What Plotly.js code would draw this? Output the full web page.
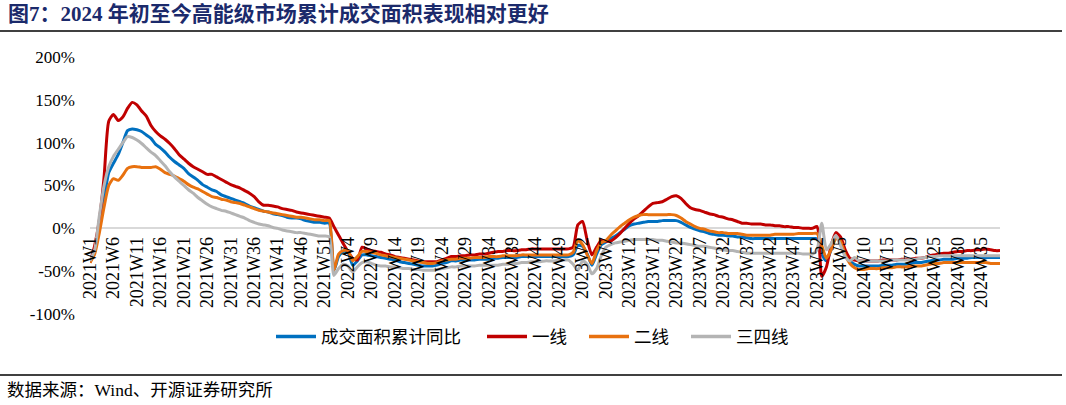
<!DOCTYPE html>
<html>
<head>
<meta charset="utf-8">
<script src="https://cdn.plot.ly/plotly-3.0.1.min.js"></script>
<style>
html,body{margin:0;padding:0;background:#fff;}
#chart{width:1066px;height:405px;}
</style>
</head>
<body>
<div id="chart"></div>
<script>
// ---- categories: weekly labels 2021W1 .. 2024W39 ----
var years = [2021, 2022, 2023, 2024];
var weeksPerYear = [52, 52, 52, 39];
var weeks = [];
for (var k = 0; k < years.length; k++) {
  for (var w = 1; w <= weeksPerYear[k]; w++) weeks.push(years[k] + 'W' + w);
}

// ---- tick labels shown on the x axis ----
var tickLabels = ['2021W1','2021W6','2021W11','2021W16','2021W21','2021W26','2021W31','2021W36','2021W41','2021W46','2021W51',
  '2022W4','2022W9','2022W14','2022W19','2022W24','2022W29','2022W34','2022W39','2022W44','2022W49',
  '2023W2','2023W7','2023W12','2023W17','2023W22','2023W27','2023W32','2023W37','2023W42','2023W47','2023W52',
  '2024W5','2024W10','2024W15','2024W20','2024W25','2024W30','2024W35'];

// ---- series (%), 成交面积累计同比 ----
var total = [
 -38,-25,5,35,65,76,86,100,114,116,115,113,109,105,98,94,89,83,78,74,70,64,60,56,51,48,45,43,39,37,35,33,31,29,26,24,22,20,19,17,16,15,13,12,12,11,9,8,7,7,6,6,
 -49,-33,-27,-28,-43,-38,-31,-31,-32,-33,-34,-35,-36,-37,-39,-40,-41,-42,-43,-44,-44,-44,-43,-41,-40,-38,-38,-37,-37,-37,-37,-36,-36,-36,-35,-35,-34,-34,-34,-34,-33,-33,-33,-33,-33,-33,-33,-33,-33,-33,-33,-31,
 -20,-21,-30,-43,-30,-19,-16,-12,-9,-5,-1,3,5,6,7,8,8,8,9,9,9,9,7,4,1,-1,-3,-4,-6,-7,-8,-8,-9,-9,-10,-10,-11,-12,-12,-12,-12,-12,-12,-12,-12,-12,-12,-12,-12,-12,-12,-12,
 -30,-38,-25,-11,-15,-27,-38,-42,-44,-44,-44,-44,-44,-43,-43,-43,-42,-42,-42,-41,-40,-40,-39,-38,-37,-37,-36,-36,-36,-35,-35,-35,-34,-34,-34,-34,-34,-34,-34
];
// 一线
var tier1 = [
 -40,-20,10,60,125,133,126,130,140,147,144,137,131,120,113,108,104,99,93,86,81,76,72,69,66,63,63,60,57,54,51,49,47,44,41,37,31,27,27,26,25,23,22,21,19,18,17,16,15,14,13,12,
 2,-8,-18,-27,-35,-37,-22,-24,-26,-27,-28,-30,-31,-33,-34,-35,-36,-37,-38,-39,-39,-39,-39,-37,-35,-33,-33,-32,-32,-31,-31,-30,-30,-29,-28,-27,-27,-26,-26,-26,-25,-25,-24,-24,-24,-24,-24,-24,-24,-24,-24,-22,
 4,8,-14,-31,-22,-14,-15,-15,-11,-6,0,6,11,15,20,25,29,30,31,34,37,38,35,29,24,22,21,19,17,16,14,13,11,10,8,6,6,5,5,5,4,4,3,3,2,2,1,1,0,0,0,2,
 -56,-45,-20,-5,-10,-25,-35,-37,-38,-38,-38,-38,-38,-37,-37,-37,-37,-36,-36,-36,-35,-35,-34,-32,-31,-30,-29,-29,-28,-27,-27,-26,-26,-25,-25,-24,-25,-26,-26
];
// 二线
var tier2 = [
 -40,-30,-5,25,50,58,56,62,70,72,72,71,71,71,72,69,65,63,61,58,55,51,48,46,43,40,37,36,34,33,31,30,29,27,25,23,21,20,19,18,17,16,15,14,13,13,12,11,10,10,9,9,
 -49,-30,-26,-26,-38,-33,-27,-27,-28,-29,-31,-32,-33,-34,-35,-36,-37,-38,-39,-40,-41,-41,-40,-38,-37,-36,-36,-35,-35,-35,-34,-34,-34,-33,-33,-33,-32,-32,-32,-32,-31,-31,-31,-31,-31,-31,-31,-31,-31,-31,-31,-28,
 -14,-19,-31,-41,-26,-17,-14,-8,-3,2,6,10,13,15,16,16,16,16,16,16,16,15,12,8,5,2,0,-1,-3,-4,-5,-5,-6,-6,-6,-7,-8,-8,-8,-8,-8,-8,-7,-7,-7,-7,-7,-6,-6,-6,-6,-6,
 -20,-35,-25,-12,-15,-31,-41,-46,-48,-48,-47,-47,-47,-46,-46,-46,-45,-45,-45,-44,-44,-44,-43,-42,-41,-41,-40,-40,-40,-40,-40,-40,-40,-40,-40,-40,-41,-41,-41
];
// 三四线
var tier34 = [
 -38,-25,15,50,72,84,92,100,107,106,103,99,94,89,85,79,73,66,60,55,50,45,41,36,32,28,25,23,21,20,18,16,14,12,9,7,5,4,3,1,0,-2,-3,-4,-5,-5,-6,-7,-8,-9,-9,-10,
 -55,-47,-42,-44,-51,-45,-40,-39,-41,-43,-44,-44,-45,-45,-46,-47,-47,-48,-48,-49,-49,-49,-48,-47,-46,-45,-45,-44,-44,-44,-44,-43,-43,-43,-43,-43,-42,-42,-41,-41,-40,-40,-39,-39,-39,-38,-38,-38,-37,-37,-37,-42,
 -49,-38,-42,-53,-47,-32,-22,-19,-17,-16,-15,-14,-13,-13,-13,-13,-13,-14,-14,-15,-16,-17,-17,-18,-19,-20,-21,-21,-22,-23,-24,-25,-26,-26,-27,-28,-29,-29,-29,-29,-29,-29,-29,-29,-29,-29,-29,-29,-30,-30,-30,-25,
 6,-25,-18,-8,-20,-33,-38,-34,-38,-38,-38,-38,-38,-38,-38,-37,-37,-37,-37,-36,-36,-35,-34,-33,-33,-32,-32,-32,-32,-32,-32,-32,-32,-32,-32,-32,-32,-32,-32
];

var seriesNames = ['成交面积累计同比', '一线', '二线', '三四线'];
var seriesData = [total, tier1, tier2, tier34];
var seriesColors = ['#0070C0', '#C00000', '#E8710F', '#B4B4B4'];

var yTickVals = [-100, -50, 0, 50, 100, 150, 200];
var yTickText = ['-100%', '-50%', '0%', '50%', '100%', '150%', '200%'];

var serif = '"Liberation Serif", "Times New Roman", "Noto Sans CJK SC", serif';

var traces = seriesData.map(function (d, i) {
  return {
    type: 'scatter', mode: 'lines', name: seriesNames[i],
    x: weeks, y: d, showlegend: false,
    line: {color: seriesColors[i], width: 3, shape: 'spline', smoothing: 0.6},
    hoverinfo: 'skip'
  };
});

// plot area: x 90..1000 px, y 57..314 px
function px2x(p) { return (p - 90) / 910; }
function px2y(p) { return (314 - p) / 257; }

var shapes = [
  {type: 'line', xref: 'paper', yref: 'paper', x0: px2x(0), x1: px2x(1062), y0: px2y(31), y1: px2y(31),
   line: {color: '#000', width: 1.3}},
  {type: 'line', xref: 'paper', yref: 'paper', x0: px2x(0), x1: px2x(1062), y0: px2y(375), y1: px2y(375),
   line: {color: '#000', width: 1.3}}
];
var annotations = [
  {xref: 'paper', yref: 'paper', x: px2x(6), y: px2y(14), xanchor: 'left', yanchor: 'middle',
   text: '<b>图7：2024 年初至今高能级市场累计成交面积表现相对更好</b>', showarrow: false,
   font: {family: serif, size: 21, color: '#1B2A6B'}},
  {xref: 'paper', yref: 'paper', x: px2x(5), y: px2y(390), xanchor: 'left', yanchor: 'middle',
   text: '数据来源：Wind、开源证券研究所', showarrow: false,
   font: {family: serif, size: 17.5, color: '#000'}}
];

// legend (drawn manually to match entry spacing)
var legendLineX = [276, 487, 589, 691];
var legendY = 336.5;
for (var i = 0; i < seriesNames.length; i++) {
  shapes.push({type: 'line', xref: 'paper', yref: 'paper',
    x0: px2x(legendLineX[i]), x1: px2x(legendLineX[i] + 40), y0: px2y(legendY), y1: px2y(legendY),
    line: {color: seriesColors[i], width: 3.5}});
  annotations.push({xref: 'paper', yref: 'paper', x: px2x(legendLineX[i] + 43), y: px2y(legendY),
    xanchor: 'left', yanchor: 'middle', showarrow: false, text: seriesNames[i],
    font: {family: serif, size: 17.5, color: '#000'}});
}

var layout = {
  width: 1066, height: 405,
  margin: {l: 90, r: 66, t: 57, b: 91},
  paper_bgcolor: '#ffffff', plot_bgcolor: '#ffffff',
  showlegend: false,
  font: {family: serif, color: '#000', size: 17},
  xaxis: {
    type: 'category', range: [0, weeks.length - 1], autorange: false,
    tickmode: 'array', tickvals: tickLabels, ticktext: tickLabels,
    tickangle: -90, tickfont: {family: serif, size: 18, color: '#000'},
    showgrid: false, zeroline: false, showline: false, ticks: '',
    anchor: 'free', position: 1 / 3, ticklabelstandoff: 4
  },
  yaxis: {
    range: [-100, 200], autorange: false,
    tickmode: 'array', tickvals: yTickVals, ticktext: yTickText,
    tickfont: {family: serif, size: 17, color: '#000'},
    showgrid: false, zeroline: true, zerolinecolor: '#D9D9D9', zerolinewidth: 2,
    showline: false, ticks: '', ticklabelstandoff: 14
  },
  shapes: shapes,
  annotations: annotations
};

Plotly.newPlot('chart', traces, layout, {staticPlot: true, displayModeBar: false});
</script>
</body>
</html>
